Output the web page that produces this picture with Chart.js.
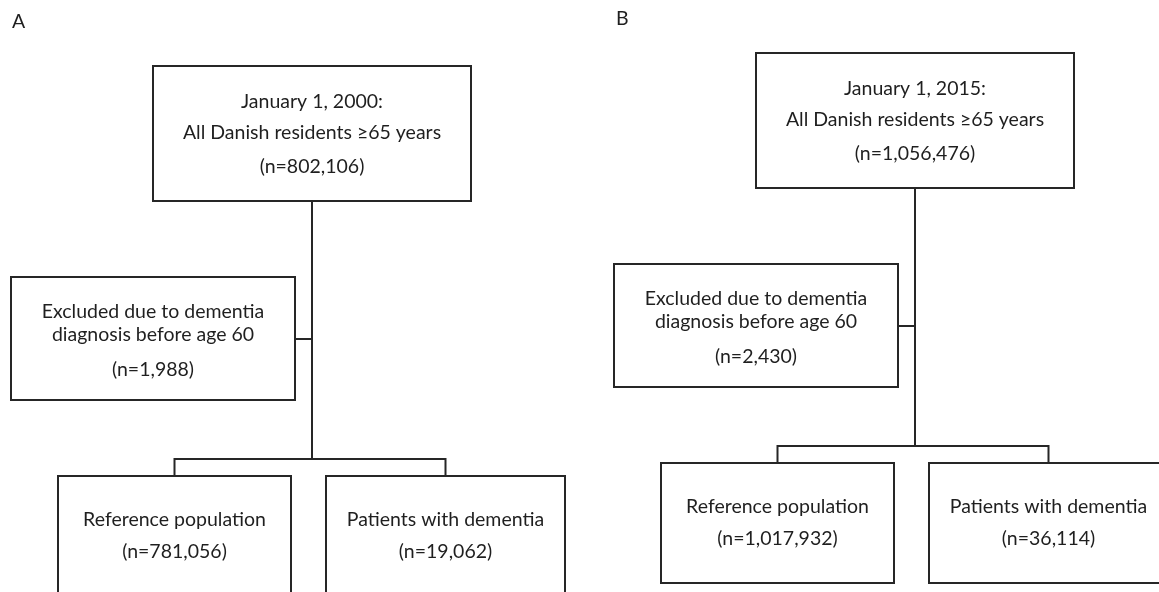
<!DOCTYPE html>
<html>
<head>
<meta charset="utf-8">
<script src="https://cdn.jsdelivr.net/npm/chart.js@4"></script>
<style>
  html, body { margin: 0; padding: 0; background: #fff; }
  #wrap { width: 1159px; height: 592px; position: relative; }
</style>
</head>
<body>
<div id="wrap"><canvas id="flowChart"></canvas></div>
<script>
// cohort numbers, one entry per panel
const panelLabels = ['A', 'B'];
const baselineDates = ['January 1, 2000:', 'January 1, 2015:'];
const cohortN = [802106, 1056476];
const excludedN = [1988, 2430];
const referenceN = [781056, 1017932];
const dementiaN = [19062, 36114];

const fmt = n => '(n=' + String(n).replace(/\B(?=(\d{3})+(?!\d))/g, ',') + ')';

// layout of panel A in axis units, panel B is the same drawing shifted
const panelShift = [{ dx: 0, dy: 0 }, { dx: 603, dy: -13 }];
const labelPos = [{ x: 12, y: 22 }, { x: 616, y: 19 }];
const boxes = {
    top:  { x1: 153, x2: 471, y1: 66,  y2: 201, lines: [102, 133, 167] },
    excl: { x1: 11,  x2: 295, y1: 277, y2: 400, lines: [312, 335, 370] },
    ref:  { x1: 58,  x2: 291, y1: 476, y2: 596, lines: [520, 552] },
    dem:  { x1: 326, x2: 565, y1: 476, y2: 596, lines: [520, 552] }
};
const trunkX = 312, sideY = 339, branchY = 459;

const ink = '#1f1f1f';

function boxText(key, i) {
    if (key === 'top') return [baselineDates[i], 'All Danish residents \u226565 years', fmt(cohortN[i])];
    if (key === 'excl') return ['Excluded due to dementia', 'diagnosis before age 60', fmt(excludedN[i])];
    if (key === 'ref') return ['Reference population', fmt(referenceN[i])];
    return ['Patients with dementia', fmt(dementiaN[i])];
}

function lineSet(pts) {
    return {
        data: pts,
        showLine: true,
        borderColor: '#262626',
        borderWidth: 2,
        borderCapStyle: 'square',
        borderJoinStyle: 'miter',
        pointRadius: 0,
        tension: 0,
        fill: false,
        clip: false
    };
}

const datasets = [];
panelLabels.forEach((lbl, i) => {
    const { dx, dy } = panelShift[i];
    Object.values(boxes).forEach(b => {
        datasets.push(lineSet([
            { x: b.x1 + dx, y: b.y1 + dy }, { x: b.x2 + dx, y: b.y1 + dy },
            { x: b.x2 + dx, y: b.y2 + dy }, { x: b.x1 + dx, y: b.y2 + dy },
            { x: b.x1 + dx, y: b.y1 + dy }
        ]));
    });
    // trunk from the cohort box down to the split
    datasets.push(lineSet([{ x: trunkX + dx, y: boxes.top.y2 + dy }, { x: trunkX + dx, y: branchY + dy }]));
    // side arm to the exclusion box
    datasets.push(lineSet([{ x: boxes.excl.x2 + dx, y: sideY + dy }, { x: trunkX + dx, y: sideY + dy }]));
    // split into the two groups
    const lx = (boxes.ref.x1 + boxes.ref.x2) / 2, rx = (boxes.dem.x1 + boxes.dem.x2) / 2;
    datasets.push(lineSet([
        { x: lx + dx, y: boxes.ref.y1 + dy }, { x: lx + dx, y: branchY + dy },
        { x: rx + dx, y: branchY + dy }, { x: rx + dx, y: boxes.dem.y1 + dy }
    ]));
});

const textPlugin = {
    id: 'boxText',
    afterDatasetsDraw(chart) {
        const { ctx, scales: { x, y } } = chart;
        ctx.save();
        ctx.fillStyle = ink;
        ctx.textBaseline = 'middle';
        ctx.font = '19.5px Lato';
        panelLabels.forEach((lbl, i) => {
            const { dx, dy } = panelShift[i];
            ctx.textAlign = 'left';
            ctx.fillText(lbl, x.getPixelForValue(labelPos[i].x), y.getPixelForValue(labelPos[i].y));
            ctx.textAlign = 'center';
            Object.entries(boxes).forEach(([key, b]) => {
                const cx = x.getPixelForValue((b.x1 + b.x2) / 2 + dx);
                boxText(key, i).forEach((t, k) => {
                    ctx.fillText(t, cx, y.getPixelForValue(b.lines[k] + dy));
                });
            });
        });
        ctx.restore();
    }
};

new Chart(document.getElementById('flowChart'), {
    type: 'scatter',
    data: { datasets },
    options: {
        responsive: true,
        maintainAspectRatio: false,
        animation: false,
        events: [],
        layout: { padding: 0 },
        scales: {
            x: { type: 'linear', min: 0, max: 1159, display: false },
            y: { type: 'linear', min: 0, max: 592, reverse: true, display: false }
        },
        plugins: {
            legend: { display: false },
            tooltip: { enabled: false }
        }
    },
    plugins: [textPlugin]
});
</script>
</body>
</html>
